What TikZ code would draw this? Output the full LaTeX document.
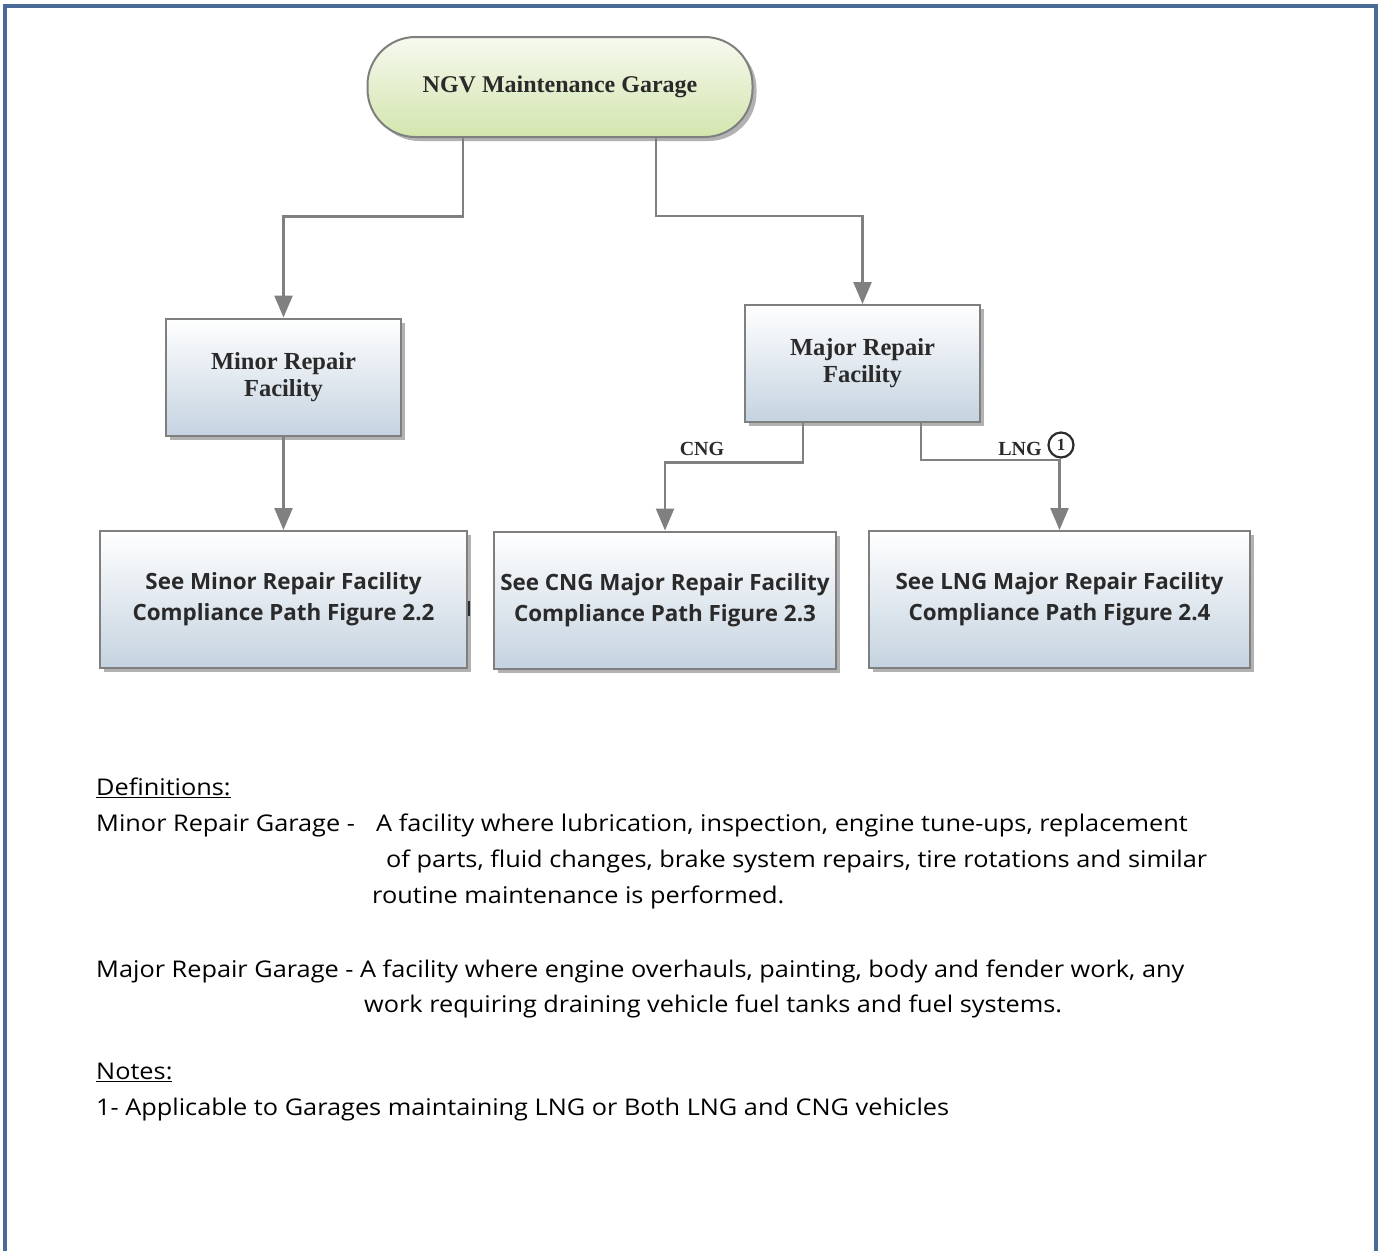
\documentclass[tikz,border=0pt]{standalone}
\usepackage{fontspec}
\setmainfont{Open Sans}
\newfontfamily\labelserif{Liberation Serif}
\newfontfamily\bodyfont[FakeStretch=1.1]{Open Sans}
\usetikzlibrary{arrows.meta,shadows,calc}

\definecolor{framecol}{HTML}{4A6B98}
\definecolor{linegray}{HTML}{808080}
\definecolor{boxgray}{HTML}{7F7F7F}
\definecolor{boxblue}{HTML}{C5D3E0}
\definecolor{pilltop}{HTML}{F6F9EF}
\definecolor{pillbottom}{HTML}{D3E5AE}
\definecolor{textdark}{HTML}{2A2A2A}

\tikzset{
  boxshadow/.style={drop shadow={shadow xshift=4pt, shadow yshift=-4pt, fill=black, opacity=0.3}},
  facility/.style={rectangle, draw=boxgray, line width=2pt, top color=white, bottom color=boxblue,
    boxshadow, minimum width=235pt, minimum height=117pt, align=center, text=textdark,
    font=\labelserif\bfseries\fontsize{24.5}{27}\selectfont},
  pathbox/.style={rectangle, draw=boxgray, line width=2pt, top color=white, bottom color=boxblue,
    boxshadow, minimum height=137pt, align=center, text=textdark,
    font=\bfseries\fontsize{22.4}{31}\selectfont},
  pill/.style={rectangle, rounded corners=48pt, draw=boxgray, line width=2pt,
    top color=pilltop, bottom color=pillbottom, boxshadow,
    minimum width=385pt, minimum height=100pt, text=textdark,
    font=\labelserif\bfseries\fontsize{24}{26}\selectfont},
  flow/.style={draw=linegray, line width=2.5pt, -{Triangle[length=22pt,width=18pt]}},
  branchlabel/.style={text=textdark, font=\labelserif\bfseries\fontsize{20}{24}\selectfont},
  bodytext/.style={anchor=base west, inner sep=0pt, text=black, font=\bodyfont\fontsize{23}{28}\selectfont},
}

\begin{document}
\begin{tikzpicture}[x=1pt,y=-1pt]
\useasboundingbox (0,0) rectangle (1380,1251);
\fill[white] (0,0) rectangle (1380,1251);

% page frame, open at the bottom
\draw[framecol, line width=3.5pt] (4.8,1251) -- (4.8,5.8) -- (1376.2,5.8) -- (1376.2,1251);

% nodes
\node[pill] (top) at (560,87) {NGV Maintenance Garage};
\node[facility] (minor) at (283.5,377) {Minor Repair\\Facility};
\node[facility] (major) at (862.5,363.5) {Major Repair\\Facility};
\node[pathbox, minimum width=367pt] (seeminor) at (283.5,599.5) {See Minor Repair Facility\\Compliance Path Figure 2.2};
\node[pathbox, minimum width=342pt] (seecng) at (665,600) {See CNG Major Repair Facility\\Compliance Path Figure 2.3};
\node[pathbox, minimum width=381pt] (seelng) at (1059.5,599.5) {See LNG Major Repair Facility\\Compliance Path Figure 2.4};

% connector bends
\coordinate (tl) at ([xshift=-97pt]top.south);
\coordinate (tr) at ([xshift=96pt]top.south);
\coordinate (ml) at ([xshift=-59.5pt]major.south);
\coordinate (mr) at ([xshift=58.5pt]major.south);

\draw[flow] (tl) |- ($(minor.north)+(0,-101)$) -- (minor.north);
\draw[flow] (tr) |- ($(major.north)+(0,-88)$) -- (major.north);
\draw[flow] (minor.south) -- (seeminor.north);
\draw[flow] (ml) |- ($(seecng.north)+(0,-68)$) -- (seecng.north);
\draw[flow] (mr) |- ($(seelng.north)+(0,-70)$) -- (seelng.north);

% branch labels
\node[branchlabel] (cng) at (702,449) {CNG};
\node[branchlabel] (lng) at (1020,449) {LNG};
\node[circle, draw=textdark, line width=2.2pt, minimum size=25pt, inner sep=0pt,
      font=\labelserif\bfseries\fontsize{17}{17}\selectfont, text=textdark] (note1) at (1061,445) {1};

% small mark beside the first path box
\draw[textdark, line width=1.5pt] (469,601) -- (469,616);

% definitions and notes
\node[bodytext] (defhead) at (96,795) {\underline{Definitions:}};
\node[bodytext] (minordef) at (96,831) {Minor Repair Garage -};
\node[bodytext] (minor1) at (376,831) {A facility where lubrication, inspection, engine tune-ups, replacement};
\node[bodytext] (minor2) at (386,867) {of parts, fluid changes, brake system repairs, tire rotations and similar};
\node[bodytext] (minor3) at (372,903) {routine maintenance is performed.};
\node[bodytext] (majordef) at (96,977) {Major Repair Garage - A facility where engine overhauls, painting, body and fender work, any};
\node[bodytext] (major1) at (364,1012) {work requiring draining vehicle fuel tanks and fuel systems.};
\node[bodytext] (notehead) at (96,1079) {\underline{Notes:}};
\node[bodytext] (note1text) at (96,1115) {1- Applicable to Garages maintaining LNG or Both LNG and CNG vehicles};
\end{tikzpicture}
\end{document}
